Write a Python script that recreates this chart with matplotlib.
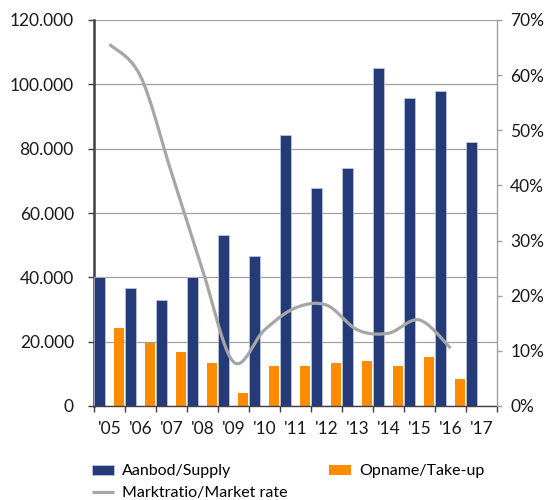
import numpy as np
import matplotlib
matplotlib.use("Agg")
import matplotlib.pyplot as plt
from matplotlib.ticker import FuncFormatter, MultipleLocator, FixedLocator

plt.rcParams["font.family"] = ["Lato", "DejaVu Sans"]

YEARS = ["'05", "'06", "'07", "'08", "'09", "'10", "'11", "'12", "'13", "'14", "'15", "'16", "'17"]
SUPPLY = [40000, 36800, 32900, 40000, 53100, 46600, 84300, 67800, 74100, 105200, 95700, 97800, 82200]
TAKE_UP = [24200, 19600, 16900, 13300, 3900, 12400, 12400, 13300, 14100, 12400, 15200, 8500]
MARKET_RATE = [65.6, 59.8, 42.3, 24.7, 8.0, 13.8, 17.8, 18.3, 13.8, 13.2, 15.6, 10.5]

BLUE = "#253a78"
ORANGE = "#ff8c00"
GREY = "#a6a6a6"


def catmull_rom(x, y, steps=30):
    # smooth curve through the points, similar to a spreadsheet "smoothed line"
    pts = np.column_stack([x, y]).astype(float)
    out = []
    for i in range(len(pts) - 1):
        p0 = pts[i - 1] if i > 0 else pts[i]
        p1, p2 = pts[i], pts[i + 1]
        p3 = pts[i + 2] if i + 2 < len(pts) else pts[i + 1]
        t = np.linspace(0, 1, steps, endpoint=False)[:, None]
        seg = 0.5 * ((2 * p1) + (-p0 + p2) * t + (2 * p0 - 5 * p1 + 4 * p2 - p3) * t ** 2
                     + (-p0 + 3 * p1 - 3 * p2 + p3) * t ** 3)
        out.append(seg)
    out.append(pts[-1:])
    out = np.vstack(out)
    return out[:, 0], out[:, 1]


fig = plt.figure(figsize=(5.49, 5.0), dpi=100)
ax = fig.add_axes([94 / 549, 1 - 406 / 500, 403 / 549, 386 / 500])
ax2 = ax.twinx()

slots = np.arange(len(YEARS))
ax.bar(slots + 0.01, SUPPLY, width=0.35, align="edge", color=BLUE,
       edgecolor="#c5cbe0", linewidth=0.5, zorder=3, label="Aanbod/Supply")
ax.bar(slots[:len(TAKE_UP)] + 0.63, TAKE_UP, width=0.35, align="edge", color=ORANGE,
       zorder=3, label="Opname/Take-up")

lx, ly = catmull_rom(slots[:len(MARKET_RATE)] + 0.5, MARKET_RATE)
line, = ax2.plot(lx, ly, color=GREY, lw=2.3, solid_capstyle="butt", label="Marktratio/Market rate")

ax.set_xlim(0, len(YEARS))
ax.set_ylim(0, 120000)
ax2.set_ylim(0, 70)

# left axis
ax.yaxis.set_major_locator(MultipleLocator(20000))
ax.yaxis.set_major_formatter(FuncFormatter(lambda v, p: f"{int(v):,}".replace(",", ".")))
ax.grid(axis="y", color="#a0a0a0", lw=0.9, zorder=0)
ax.set_axisbelow(True)
ax.tick_params(axis="y", length=4.5, width=1, color="#404040", pad=10, labelsize=12.5, labelcolor="#1a1a1a")

# x axis: ticks between categories, labels centred
ax.xaxis.set_major_locator(FixedLocator(slots + 0.5))
ax.set_xticklabels(YEARS)
ax.xaxis.set_minor_locator(FixedLocator(np.arange(len(YEARS) + 1)))
ax.tick_params(axis="x", which="major", length=0, pad=11, labelsize=12.5, labelcolor="#1a1a1a")
ax.tick_params(axis="x", which="minor", length=4.5, width=1, color="#404040")

# right axis
ax2.yaxis.set_major_locator(MultipleLocator(10))
ax2.yaxis.set_major_formatter(FuncFormatter(lambda v, p: f"{int(v)}%"))
ax2.tick_params(axis="y", length=3.5, width=1, color="#a0a0a0", pad=6, labelsize=12.5, labelcolor="#1a1a1a")

for a in (ax, ax2):
    a.spines["top"].set_visible(False)
ax.spines["right"].set_visible(False)
ax2.spines["left"].set_visible(False)
ax2.spines["bottom"].set_visible(False)
ax.spines["left"].set_color("#404040")
ax.spines["left"].set_linewidth(1.8)
ax.spines["bottom"].set_color("#404040")
ax.spines["bottom"].set_linewidth(1.0)
ax.spines["bottom"].set_zorder(4)
ax2.spines["right"].set_color("#a0a0a0")
ax2.spines["right"].set_linewidth(1.0)

h1, l1 = ax.get_legend_handles_labels()
handles = [h1[0], line, h1[1]]
labels = [l1[0], "Marktratio/Market rate", l1[1]]
fig.legend(handles, labels, ncol=2, loc="upper left", bbox_to_anchor=(0.167, 0.071),
           frameon=False, fontsize=11.5, handlelength=1.4, handleheight=0.55,
           handletextpad=0.5, labelspacing=0.5, columnspacing=2.6, borderpad=0, borderaxespad=0)

fig.savefig("out.png", dpi=100)
